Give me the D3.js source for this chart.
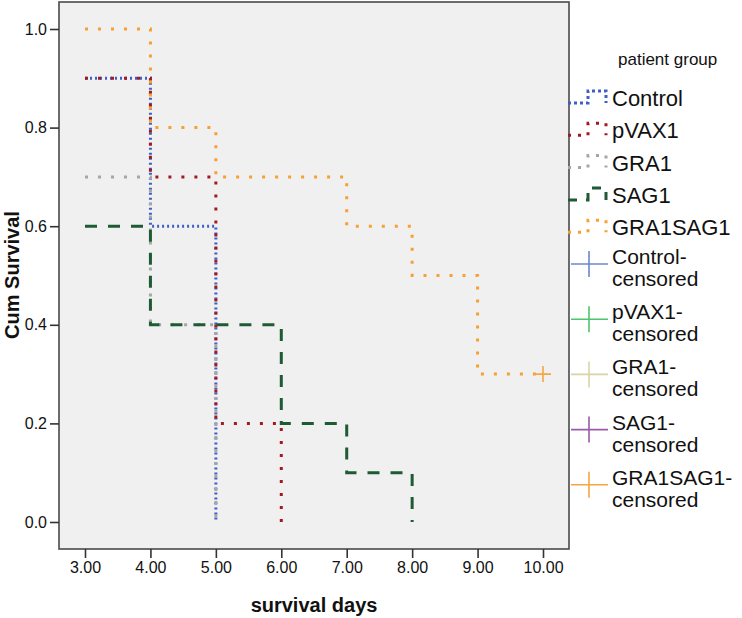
<!DOCTYPE html>
<html>
<head>
<meta charset="utf-8">
<script src="https://cdn.jsdelivr.net/npm/d3@7/dist/d3.min.js"></script>
<style>
  html, body { margin: 0; padding: 0; background: #fff; }
  svg { display: block; font-family: Arial, "Liberation Sans", sans-serif; }
</style>
</head>
<body>
<svg id="chart" width="742" height="618"></svg>
<script>
// ---- data ----
const groups = ["Control", "pVAX1", "GRA1", "SAG1", "GRA1SAG1"];
const controlTimes = [3, 4, 5];
const controlSurv = [0.9, 0.6, 0.0];
const pvaxTimes = [3, 4, 5, 6];
const pvaxSurv = [0.9, 0.7, 0.2, 0.0];
const gra1Times = [3, 4, 5];
const gra1Surv = [0.7, 0.4, 0.0];
const sag1Times = [3, 4, 6, 7, 8];
const sag1Surv = [0.6, 0.4, 0.2, 0.1, 0.0];
const gsTimes = [3, 4, 5, 7, 8, 9, 10];
const gsSurv = [1.0, 0.8, 0.7, 0.6, 0.5, 0.3, 0.3];
const censorTimes = [10];
const censorSurv = [0.3];
const xTicks = [3, 4, 5, 6, 7, 8, 9, 10];
const yTicks = [0.0, 0.2, 0.4, 0.6, 0.8, 1.0];
const censoredLabels = ["Control-", "pVAX1-", "GRA1-", "SAG1-", "GRA1SAG1-"];

// ---- styles ----
const lineColors = ["#3d5fc6", "#a11a20", "#a6a6a6", "#1e5b35", "#f6a032"];
const dashes = ["2,3", "3,10", "3,10", "12,11", "3,10"];
const censorColors = ["#6d88cb", "#4dc66b", "#d8d4a6", "#9a5ba7", "#f7a640"];

const svg = d3.select("#chart");
const plot = { left: 59, right: 569, top: 2, bottom: 549 };

const x = d3.scaleLinear().domain([3, 10]).range([85, 543]);
const y = d3.scaleLinear().domain([0, 1]).range([522, 29]);

svg.append("rect")
  .attr("x", plot.left).attr("y", plot.top)
  .attr("width", plot.right - plot.left).attr("height", plot.bottom - plot.top)
  .attr("fill", "#f0f0f0");

const series = [
  { t: controlTimes, s: controlSurv },
  { t: pvaxTimes, s: pvaxSurv },
  { t: gra1Times, s: gra1Surv },
  { t: sag1Times, s: sag1Surv },
  { t: gsTimes, s: gsSurv }
];

const line = d3.line().x(d => x(d[0])).y(d => y(d[1])).curve(d3.curveStepAfter);

series.forEach((ser, i) => {
  const pts = ser.t.map((t, k) => [t, ser.s[k]]);
  svg.append("path")
    .attr("d", line(pts))
    .attr("fill", "none")
    .attr("stroke", lineColors[i])
    .attr("stroke-width", 3)
    .attr("stroke-dasharray", dashes[i]);
});

// censored mark
censorTimes.forEach((t, k) => {
  const cx = x(t), cy = y(censorSurv[k]);
  svg.append("path")
    .attr("d", `M${cx - 8},${cy}H${cx + 8}M${cx},${cy - 8}V${cy + 8}`)
    .attr("stroke", censorColors[4]).attr("stroke-width", 1.6).attr("fill", "none");
});

// frame
svg.append("rect")
  .attr("x", plot.left).attr("y", plot.top)
  .attr("width", plot.right - plot.left).attr("height", plot.bottom - plot.top)
  .attr("fill", "none").attr("stroke", "#4a4a4a").attr("stroke-width", 1.6);

// axes
const yAxis = d3.axisLeft(y).tickValues(yTicks).tickFormat(d3.format(".1f")).tickSize(9).tickPadding(3);
const gy = svg.append("g").attr("transform", `translate(${plot.left},0)`).call(yAxis);
const xAxis = d3.axisBottom(x).tickValues(xTicks).tickFormat(d3.format(".2f")).tickSize(9).tickPadding(4);
const gx = svg.append("g").attr("transform", `translate(0,${plot.bottom})`).call(xAxis);
[gx, gy].forEach(g => {
  g.select(".domain").remove();
  g.selectAll(".tick line").attr("stroke", "#333").attr("stroke-width", 1.6);
  g.selectAll(".tick text").attr("fill", "#111").style("font-size", "16px")
    .style("font-family", "Arial, 'Liberation Sans', sans-serif");
});

// axis titles
svg.append("text")
  .attr("x", 314).attr("y", 612)
  .attr("text-anchor", "middle")
  .style("font-size", "20px").style("font-weight", "bold")
  .attr("fill", "#111")
  .text("survival days");
svg.append("text")
  .attr("transform", "translate(19,275) rotate(-90)")
  .attr("text-anchor", "middle")
  .style("font-size", "20px").style("font-weight", "bold")
  .attr("fill", "#111")
  .text("Cum Survival");

// legend
svg.append("text")
  .attr("x", 618).attr("y", 65)
  .style("font-size", "17px").attr("fill", "#111")
  .text("patient group");

groups.forEach((g, i) => {
  const by = 106 + i * 32.3;
  const lo = by - 3, hi = by - 15;
  svg.append("path")
    .attr("d", `M568,${lo}H588V${hi}H606V${lo}`)
    .attr("fill", "none")
    .attr("stroke", lineColors[i])
    .attr("stroke-width", 3)
    .attr("stroke-dasharray", i === 0 ? "3,3" : dashes[i] === "12,11" ? "9,9" : "3,7");
  svg.append("text")
    .attr("x", 612).attr("y", by)
    .style("font-size", "22px").attr("fill", "#111")
    .text(g);
});

censoredLabels.forEach((lab, i) => {
  const cy = 264 + i * 55.2;
  svg.append("path")
    .attr("d", `M571,${cy}H608M589,${cy - 13}V${cy + 13}`)
    .attr("fill", "none").attr("stroke", censorColors[i]).attr("stroke-width", 1.6);
  const t = svg.append("text").attr("x", 612).attr("y", cy)
    .style("font-size", "21px").attr("fill", "#111");
  t.append("tspan").attr("x", 612).attr("y", cy).text(lab);
  t.append("tspan").attr("x", 612).attr("y", cy + 22).text("censored");
});
</script>
</body>
</html>
